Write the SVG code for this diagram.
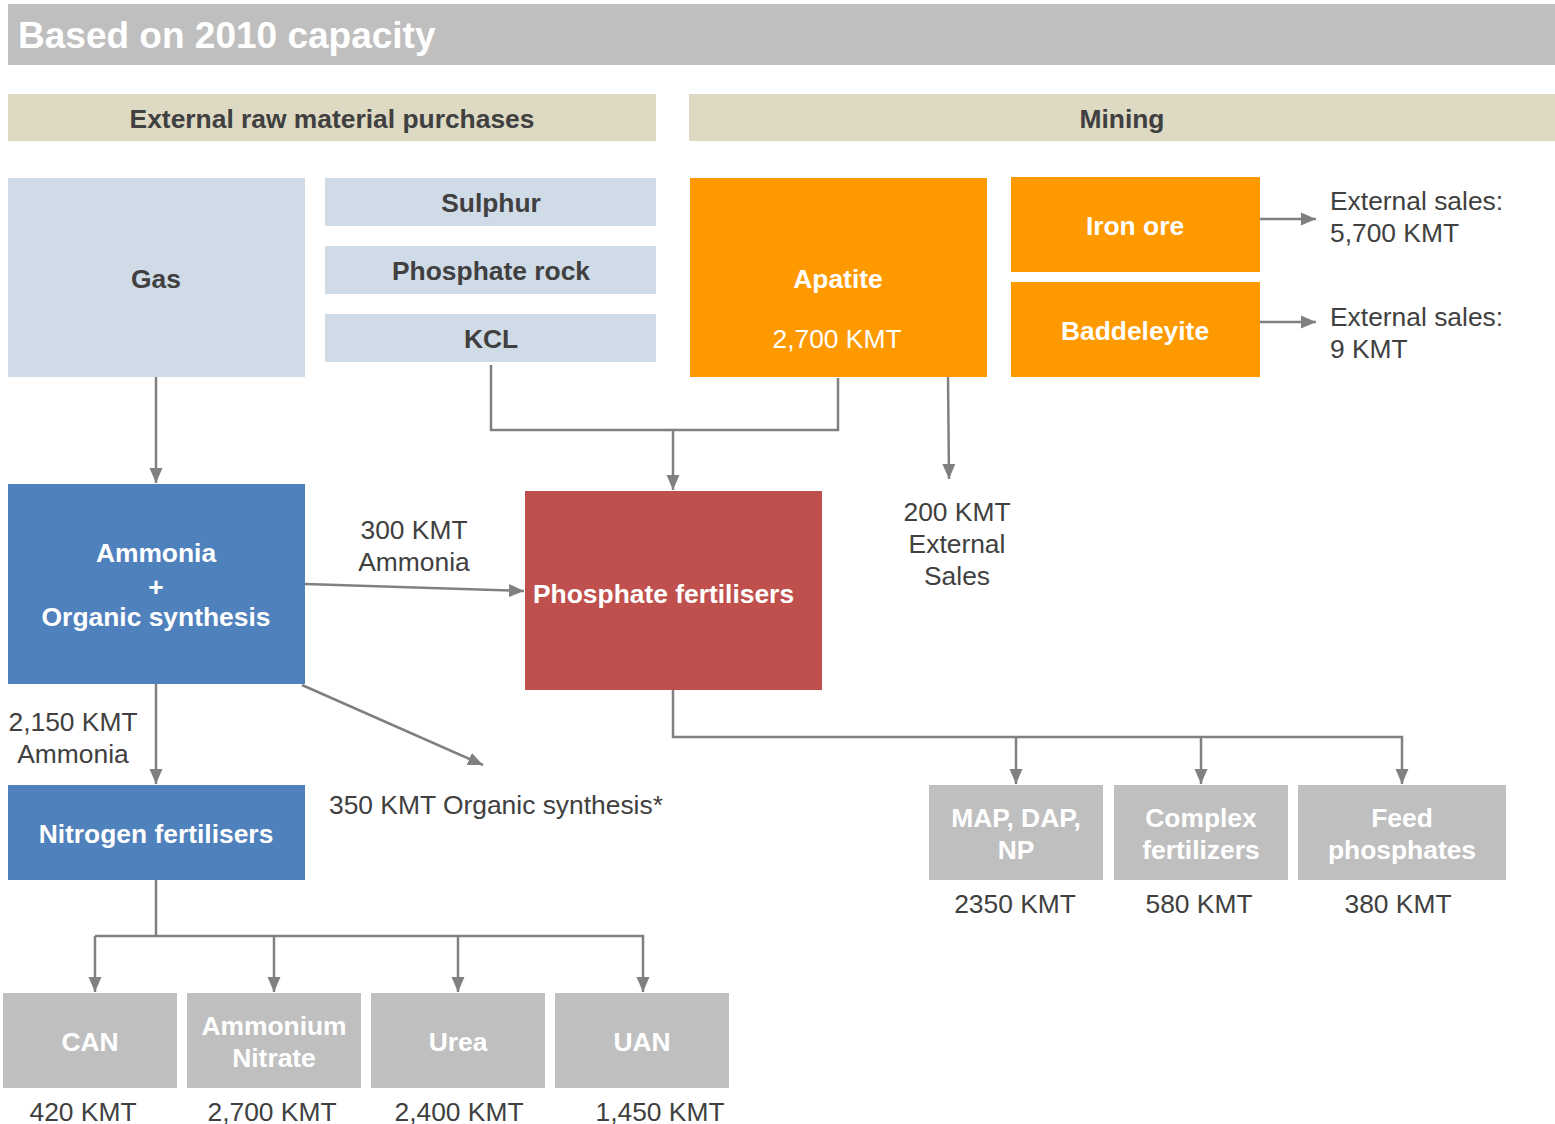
<svg xmlns="http://www.w3.org/2000/svg" width="1555" height="1124" viewBox="0 0 1555 1124">
<style>
text{font-family:"Liberation Sans",Arial,sans-serif;font-size:26.4px}
.b{font-weight:bold}
.w{fill:#fff}
.d{fill:#404040}
.c{text-anchor:middle}
.conn{fill:none;stroke:#808080;stroke-width:2.5}
</style>
<defs>
<marker id="ah" markerUnits="userSpaceOnUse" markerWidth="16" markerHeight="16" viewBox="0 0 16 16" refX="15" refY="8" orient="auto">
<path d="M0,1.5 L15,8 L0,14.5 Z" fill="#808080"/>
</marker>
</defs>
<rect width="1555" height="1124" fill="#fff"/>
<g id="title">
<rect x="8" y="4" width="1547" height="61" fill="#bfbfbf"/>
<text x="18" y="48" class="b w" style="font-size:37px">Based on 2010 capacity</text>
</g>
<g id="hdr-external">
<rect x="8" y="94" width="648" height="47" fill="#ddd9c3"/>
<text x="332" y="128" class="b d c">External raw material purchases</text>
</g>
<g id="hdr-mining">
<rect x="689" y="94" width="866" height="47" fill="#ddd9c3"/>
<text x="1122" y="128" class="b d c">Mining</text>
</g>
<g id="gas">
<rect x="8" y="178" width="297" height="199" fill="#d0dbe8"/>
<text x="156" y="288" class="b d c">Gas</text>
</g>
<g id="sulphur">
<rect x="325" y="178" width="331" height="48" fill="#d0dbe8"/>
<text x="491" y="212" class="b d c">Sulphur</text>
</g>
<g id="phosphate-rock">
<rect x="325" y="246" width="331" height="48" fill="#d0dbe8"/>
<text x="491" y="280" class="b d c">Phosphate rock</text>
</g>
<g id="kcl">
<rect x="325" y="314" width="331" height="48" fill="#d0dbe8"/>
<text x="491" y="348" class="b d c">KCL</text>
</g>
<g id="apatite">
<rect x="690" y="178" width="297" height="199" fill="#ff9900"/>
<text x="838" y="288" class="b w c">Apatite</text>
<text x="837" y="348" class="w c">2,700 KMT</text>
</g>
<g id="iron-ore">
<rect x="1011" y="177" width="249" height="95" fill="#ff9900"/>
<text x="1135" y="235" class="b w c">Iron ore</text>
</g>
<g id="baddeleyite">
<rect x="1011" y="282" width="249" height="95" fill="#ff9900"/>
<text x="1135" y="340" class="b w c">Baddeleyite</text>
</g>
<g id="ammonia">
<rect x="8" y="484" width="297" height="200" fill="#4f81bd"/>
<text x="156" y="562" class="b w c">Ammonia</text>
<text x="156" y="596" class="b w c">+</text>
<text x="156" y="626" class="b w c">Organic synthesis</text>
</g>
<g id="phosphate-fertilisers">
<rect x="525" y="491" width="297" height="199" fill="#c0504d"/>
<text x="533" y="603" class="b w">Phosphate fertilisers</text>
</g>
<g id="nitrogen-fertilisers">
<rect x="8" y="785" width="297" height="95" fill="#4f81bd"/>
<text x="156" y="843" class="b w c">Nitrogen fertilisers</text>
</g>
<g id="can">
<rect x="3" y="993" width="174" height="95" fill="#bfbfbf"/>
<text x="90" y="1051" class="b w c">CAN</text>
</g>
<g id="ammonium-nitrate">
<rect x="187" y="993" width="174" height="95" fill="#bfbfbf"/>
<text x="274" y="1035" class="b w c">Ammonium</text>
<text x="274" y="1067" class="b w c">Nitrate</text>
</g>
<g id="urea">
<rect x="371" y="993" width="174" height="95" fill="#bfbfbf"/>
<text x="458" y="1051" class="b w c">Urea</text>
</g>
<g id="uan">
<rect x="555" y="993" width="174" height="95" fill="#bfbfbf"/>
<text x="642" y="1051" class="b w c">UAN</text>
</g>
<g id="map-dap-np">
<rect x="929" y="785" width="174" height="95" fill="#bfbfbf"/>
<text x="1016" y="827" class="b w c">MAP, DAP,</text>
<text x="1016" y="859" class="b w c">NP</text>
</g>
<g id="complex">
<rect x="1114" y="785" width="174" height="95" fill="#bfbfbf"/>
<text x="1201" y="827" class="b w c">Complex</text>
<text x="1201" y="859" class="b w c">fertilizers</text>
</g>
<g id="feed">
<rect x="1298" y="785" width="208" height="95" fill="#bfbfbf"/>
<text x="1402" y="827" class="b w c">Feed</text>
<text x="1402" y="859" class="b w c">phosphates</text>
</g>
<g id="labels">
<text x="1330" y="210" class="d">External sales:</text>
<text x="1330" y="242" class="d">5,700 KMT</text>
<text x="1330" y="326" class="d">External sales:</text>
<text x="1330" y="358" class="d">9 KMT</text>
<text x="957" y="521" class="d c">200 KMT</text>
<text x="957" y="553" class="d c">External</text>
<text x="957" y="585" class="d c">Sales</text>
<text x="414" y="539" class="d c">300 KMT</text>
<text x="414" y="571" class="d c">Ammonia</text>
<text x="73" y="731" class="d c">2,150 KMT</text>
<text x="73" y="763" class="d c">Ammonia</text>
<text x="329" y="814" class="d">350 KMT Organic synthesis*</text>
<text x="83" y="1121" class="d c">420 KMT</text>
<text x="272" y="1121" class="d c">2,700 KMT</text>
<text x="459" y="1121" class="d c">2,400 KMT</text>
<text x="660" y="1121" class="d c">1,450 KMT</text>
<text x="1015" y="913" class="d c">2350 KMT</text>
<text x="1199" y="913" class="d c">580 KMT</text>
<text x="1398" y="913" class="d c">380 KMT</text>
</g>
<g id="connectors" class="conn">
<path d="M1260,219 H1316" marker-end="url(#ah)"/>
<path d="M1260,322 H1316" marker-end="url(#ah)"/>
<path d="M491,365 V430 H838 V378"/>
<path d="M673,430 V490" marker-end="url(#ah)"/>
<path d="M948,377 L949,479" marker-end="url(#ah)"/>
<path d="M156,377 V483" marker-end="url(#ah)"/>
<path d="M305,584 L524,591" marker-end="url(#ah)"/>
<path d="M302,685 L483,765" marker-end="url(#ah)"/>
<path d="M156,684 V784" marker-end="url(#ah)"/>
<path d="M156,880 V936"/>
<path d="M95,936 H643 V992" marker-end="url(#ah)"/>
<path d="M95,936 V992" marker-end="url(#ah)"/>
<path d="M274,936 V992" marker-end="url(#ah)"/>
<path d="M458,936 V992" marker-end="url(#ah)"/>
<path d="M673,690 V737 H1402 V784" marker-end="url(#ah)"/>
<path d="M1016,737 V784" marker-end="url(#ah)"/>
<path d="M1201,737 V784" marker-end="url(#ah)"/>
</g>
</svg>
